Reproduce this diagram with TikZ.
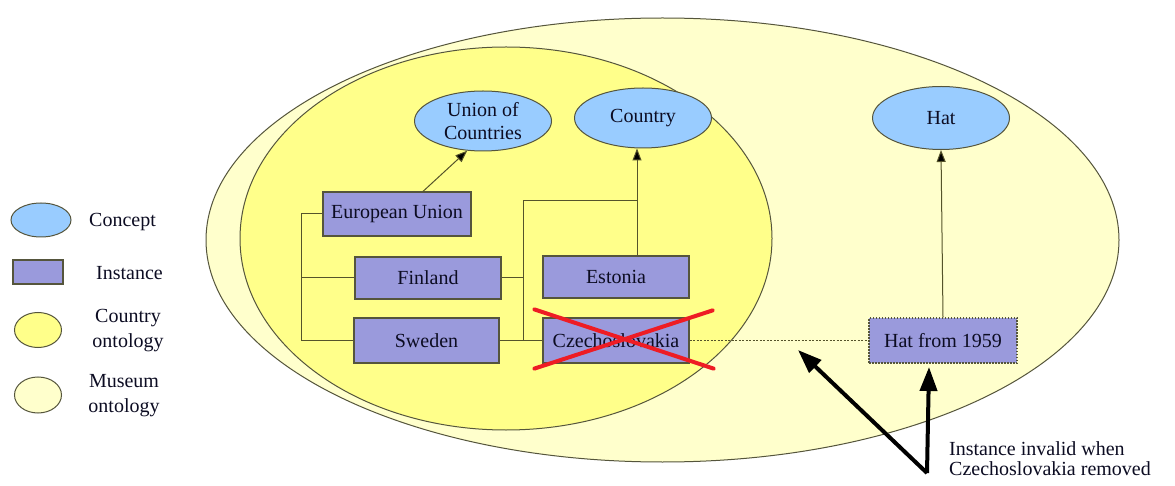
\documentclass[tikz,border=0pt]{standalone}
\usepackage{fontspec}
\setmainfont{Liberation Serif}
\usetikzlibrary{shapes.geometric,arrows.meta,calc}
\definecolor{museumfill}{HTML}{FFFFCC}
\definecolor{countryfill}{HTML}{FFFF8A}
\definecolor{conceptfill}{HTML}{99CCFF}
\definecolor{instfill}{HTML}{9A9ADC}
\definecolor{rim}{HTML}{55553C}
\definecolor{linkcol}{HTML}{55532A}
\definecolor{ink}{HTML}{0C0C22}
\definecolor{crossred}{HTML}{EE1C24}

\begin{document}
\begin{tikzpicture}[x=1pt,y=-1pt,
  font=\fontsize{20}{23}\selectfont,
  every node/.style={text=ink},
  ontology/.style={ellipse,draw=rim,line width=1pt,inner sep=0pt},
  concept/.style={ellipse,draw=rim,line width=1pt,fill=conceptfill,
    minimum width=137pt,minimum height=60pt,inner sep=0pt,align=center},
  instance/.style={rectangle,draw=rim,line width=1.2pt,fill=instfill,
    minimum width=146pt,minimum height=43pt,inner sep=0pt},
  link/.style={draw=linkcol,line width=1pt},
  isa/.style={link,-{Triangle[length=12pt,width=9pt,fill=black]}},
  pointer/.style={draw=black,line width=4pt,-{Triangle[length=24pt,width=17pt]}},
  legendtext/.style={align=center,font=\fontsize{20}{25}\selectfont},
]
\useasboundingbox (0,0) rectangle (1175,486);
\fill[white] (0,0) rectangle (1175,486);

% nested ontologies
\node[ontology,fill=museumfill,minimum width=913pt,minimum height=444pt] (museum) at (662.5,240) {};
\node[ontology,fill=countryfill,minimum width=532pt,minimum height=383pt] (countryonto) at (506,238.5) {};

% concepts
\node[concept] (union) at (483,121) {Union of\\Countries};
\node[concept] (country) at (643,118) {Country};
\node[concept,minimum height=63pt] (hat) at (941,118) {Hat};

% instances
\node[instance,minimum width=148pt,minimum height=44pt] (eu) at (397,214) {European Union};
\node[instance,minimum height=42pt] (finland) at (428,278) {Finland};
\node[instance,minimum height=42pt] (estonia) at (616,277) {Estonia};
\node[instance,minimum width=145pt,minimum height=45pt] (sweden) at (426.5,340.5) {Sweden};
\node[instance,minimum height=45pt] (czech) at (616,340.5) {Czechoslovakia};
\node[instance,minimum width=148pt,minimum height=45pt,dash pattern=on 1.5pt off 1.5pt] (hat1959) at (943,340.5) {Hat from 1959};

% membership brackets
\coordinate (lb) at (301,214);
\draw[link] (eu.west) -- (lb) |- (sweden.west);
\draw[link] (finland.west) -- (finland.west -| lb);

\coordinate (rb) at (523,201);
\coordinate (cv) at (637,201);
\draw[link] (finland.east) -- (finland.east -| rb);
\draw[link] (sweden.east) -- (czech.west);
\draw[link] (rb |- sweden.east) -- (rb) -- (cv);

% instance-of arrows
\draw[isa] (eu.41) -- (union.242);
\draw[isa] (estonia.north -| cv) -- (country.south -| cv);
\draw[isa] (hat1959.north) -- (hat.south);

% dependency of the museum instance
\draw[draw=linkcol,line width=1pt,dash pattern=on 2pt off 1.5pt] (czech.east) -- (hat1959.west);

% removed instance
\draw[crossred,line width=4pt,line cap=round]
  ($(czech.north west)+(-8,-8)$) -- ($(czech.south east)+(24,5)$);
\draw[crossred,line width=4pt,line cap=round]
  ($(czech.south west)+(-8,5)$) -- ($(czech.north east)+(23,-7)$);

% annotation
\coordinate (vtx) at (927,473);
\coordinate (gap) at (798,350);
\coordinate (below) at (929,367);
\draw[pointer] (vtx) -- (gap);
\draw[pointer] (vtx) -- (below);
\node[anchor=north west,align=left,inner sep=0pt,font=\fontsize{20}{20}\selectfont] (note) at (949,441)
  {Instance invalid when\\Czechoslovakia removed};

% legend
\node[ellipse,draw=rim,line width=1pt,fill=conceptfill,minimum width=60pt,minimum height=34pt,inner sep=0pt] (lgconcept) at (41,220) {};
\node[anchor=west,inner sep=0pt] (lgconcepttxt) at (89,222) {Concept};
\node[rectangle,draw=rim,line width=1.2pt,fill=instfill,minimum width=50pt,minimum height=24pt,inner sep=0pt] (lginst) at (38,272) {};
\node[anchor=west,inner sep=0pt] (lginsttxt) at (96,273) {Instance};
\node[ontology,fill=countryfill,minimum width=47pt,minimum height=35pt] (lgcountry) at (38,330) {};
\node[legendtext] (lgcountrytxt) at (128,331) {Country\\ontology};
\node[ontology,fill=museumfill,minimum width=47pt,minimum height=36pt] (lgmuseum) at (38,395) {};
\node[legendtext] (lgmuseumtxt) at (124,396) {Museum\\ontology};
\end{tikzpicture}
\end{document}
